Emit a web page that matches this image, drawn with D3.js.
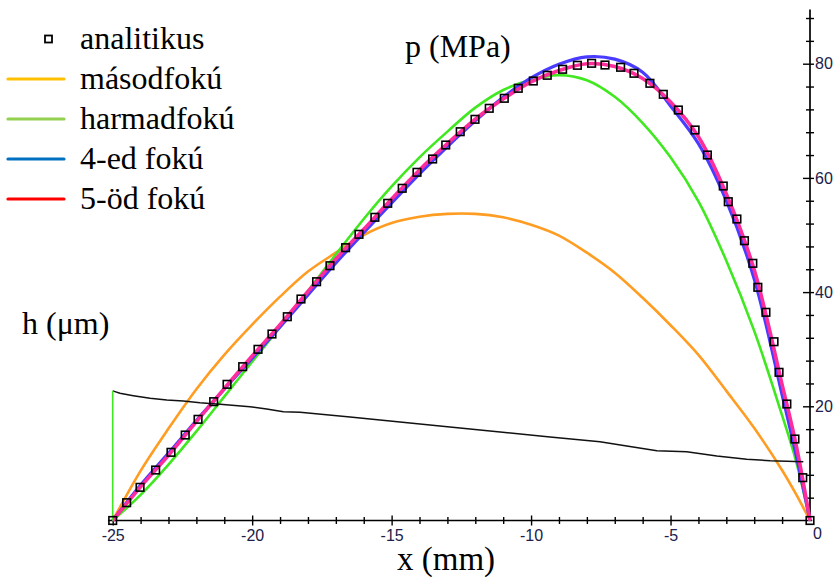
<!DOCTYPE html>
<html>
<head>
<meta charset="utf-8">
<script src="https://cdn.jsdelivr.net/npm/d3@7"></script>
<style>
  body { margin: 0; background: #fff; }
  svg { display: block; }
  .serif { font-family: 'Liberation Serif', 'Times New Roman', serif; fill: #000; }
  .tick text { font-family: 'Liberation Sans', Arial, sans-serif; font-size: 16px; fill: #20204a; }
</style>
</head>
<body>
<svg width="837" height="577"></svg>
<script>
const width = 837,
  height = 577

// analytic solution (x in mm, p in MPa)
const analyticX = [-25, -24.5, -24.02, -23.46, -22.91, -22.4, -21.94, -21.38, -20.9, -20.34,
  -19.79, -19.29, -18.74, -18.25, -17.69, -17.21, -16.65, -16.17, -15.6, -15.14,
  -14.62, -14.09, -13.53, -13.06, -12.54, -12.01, -11.5, -10.96, -10.46, -9.92,
  -9.42, -8.87, -8.34, -7.83, -7.35, -6.79, -6.31, -5.74, -5.26, -4.72,
  -4.12, -3.68, -3.11, -2.93, -2.62, -2.35, -2.05, -1.87, -1.58, -1.29,
  -1.11, -0.83, -0.54, -0.26, 0]
const analyticP = [0, 3.12, 5.81, 8.84, 11.94, 14.97, 17.72, 20.81, 23.85, 26.94,
  29.98, 32.66, 35.69, 38.79, 41.82, 44.62, 47.78, 50.12, 53.1, 55.55,
  58.18, 60.98, 63.31, 65.76, 68.09, 70.26, 72.19, 73.94, 75.69, 76.97,
  77.97, 79.02, 79.72, 80.07, 79.77, 79.37, 78.32, 76.57, 74.64, 71.89,
  68.39, 64.01, 58.58, 55.83, 52.8, 49.0, 45.04, 40.84, 36.46, 31.31,
  25.95, 20.4, 14.27, 7.5, 0]

// fitted polynomials, sampled along x
const fitX = [-25, -24, -23, -22, -21, -20, -19, -18, -17, -16, -15, -14, -13, -12, -11,
  -10, -9, -8, -7, -6, -5, -4, -3, -2, -1, -0.5, 0]
const quad = [0, 8.7, 16.1, 23.0, 29.0, 34.3, 39.2, 43.6, 46.9, 50.0, 52.1, 53.2, 53.7, 53.7, 53.1,
  51.8, 49.9, 46.9, 43.4, 39.0, 34.2, 29.0, 22.7, 16.2, 8.8, 4.6, 0]
const cubic = [0, 4.5, 9.8, 15.6, 21.7, 27.8, 33.9, 40.2, 46.6, 52.8, 58.5, 63.6, 68.1, 72.3, 75.4,
  77.2, 78.0, 77.1, 74.2, 69.6, 63.6, 55.9, 45.5, 33.2, 18.4, 10.4, 0]
const quartic = [0, 6.2, 11.8, 17.5, 23.0, 28.4, 33.9, 39.5, 45.1, 50.4, 55.6, 60.7, 65.5, 70.0, 74.1,
  77.5, 79.9, 81.2, 80.8, 78.5, 72.6, 66.0, 56.0, 42.3, 22.0, 11.5, 0]
const quintic = [0, 5.9, 11.4, 17.3, 23.1, 28.8, 34.3, 40.1, 45.8, 51.0, 56.3, 61.4, 66.0, 70.3, 73.8,
  76.8, 78.8, 80.0, 79.5, 77.4, 73.3, 67.2, 57.2, 43.9, 23.8, 13.3, 0]

// film thickness h (um)
const hX = [-25, -24.74, -24.26, -23.66, -23.06, -22.47, -21.87, -21.15, -20.08, -19.48,
  -18.88, -18.28, -16.49, -14.7, -12.91, -11.11, -9.32, -7.53, -6.57, -5.49,
  -4.42, -3.34, -2.27, -1.43, -0.24]
const hVal = [22.7, 22.28, 21.86, 21.4, 21.1, 20.93, 20.63, 20.35, 19.93, 19.53,
  19.05, 18.95, 18.13, 17.25, 16.37, 15.5, 14.62, 13.8, 13.05, 12.22,
  12.05, 11.3, 10.72, 10.47, 10.3]

const xMajor = [-25, -20, -15, -10, -5]
const yMajor = [20, 40, 60, 80]

const legendItems = [
  { name: 'analitikus', type: 'marker' },
  { name: 'másodfokú', color: '#ffc000' },
  { name: 'harmadfokú', color: '#92d050' },
  { name: '4-ed fokú', color: '#0070c0' },
  { name: '5-öd fokú', color: '#ff0000' }
]

let svg = d3.select('svg')

let x = d3.scaleLinear().domain([-25, 0]).range([112.7, 810])
let y = d3.scaleLinear().domain([0, 80]).range([520.5, 63.7])

let zip = (xs, ys) => xs.map((v, i) => [v, ys[i]])
let line = d3.line()
  .x(d => x(d[0]))
  .y(d => y(d[1]))
  .curve(d3.curveCatmullRom.alpha(0.5))

// axes
let xAxis = svg.append('g')
  .attr('transform', `translate(0,${y(0)})`)
  .call(d3.axisBottom(x)
    .tickValues(d3.range(-25, 0, 1))
    .tickFormat(d => xMajor.includes(d) ? d : '')
    .tickSizeOuter(0))
xAxis.select('.domain').remove()
xAxis.selectAll('.tick line')
  .attr('stroke', '#000')
  .attr('stroke-width', 1.4)
  .attr('y1', d => xMajor.includes(d) ? -5 : -3.5)
  .attr('y2', d => xMajor.includes(d) ? 5 : 3.5)
xAxis.selectAll('.tick text').attr('y', 9).attr('dy', '0.71em')
xAxis.append('line')
  .attr('x1', x(-25.17)).attr('x2', x(0.08))
  .attr('stroke', '#000').attr('stroke-width', 1.7)

let yAxis = svg.append('g')
  .attr('transform', `translate(${x(0)},0)`)
  .call(d3.axisRight(y)
    .tickValues(d3.range(4, 89, 4))
    .tickFormat(d => yMajor.includes(d) ? d : '')
    .tickSizeOuter(0))
yAxis.select('.domain').remove()
yAxis.selectAll('.tick line')
  .attr('stroke', '#000')
  .attr('stroke-width', 1.4)
  .attr('x1', d => yMajor.includes(d) ? -7 : -4)
  .attr('x2', 4)
yAxis.selectAll('.tick text').attr('x', 5)
yAxis.append('line')
  .attr('y1', y(0)).attr('y2', y(89.5))
  .attr('stroke', '#000').attr('stroke-width', 1.7)
yAxis.append('text')
  .attr('x', 3).attr('y', y(0) + 18)
  .style('font-family', "'Liberation Sans', Arial, sans-serif")
  .style('font-size', '16px')
  .attr('fill', '#20204a')
  .text('0')

// curves
let curves = [
  { values: quad, color: '#ff9c22', width: 2.6 },
  { values: cubic, color: '#3fe81f', width: 2.6 },
  { values: quartic, color: '#4a3cff', width: 3.2 },
  { values: quintic, color: '#ff2d9b', width: 3.6 }
]

svg.append('g').selectAll('path')
  .data(curves)
  .join('path')
    .attr('d', d => line(zip(fitX, d.values)))
    .attr('fill', 'none')
    .attr('stroke', d => d.color)
    .attr('stroke-width', d => d.width)

// h profile and the left boundary
svg.append('path')
  .attr('d', d3.line().x(d => x(d[0])).y(d => y(d[1]))(zip(hX, hVal)))
  .attr('fill', 'none')
  .attr('stroke', '#111')
  .attr('stroke-width', 1.5)

svg.append('line')
  .attr('x1', x(hX[0])).attr('x2', x(hX[0]))
  .attr('y1', y(0)).attr('y2', y(hVal[0]))
  .attr('stroke', '#3fe81f')
  .attr('stroke-width', 1.6)

// analytic markers
svg.append('g').selectAll('rect')
  .data(zip(analyticX, analyticP))
  .join('rect')
    .attr('x', d => x(d[0]) - 3.8)
    .attr('y', d => y(d[1]) - 3.8)
    .attr('width', 7.6)
    .attr('height', 7.6)
    .attr('fill', 'none')
    .attr('stroke', '#000')
    .attr('stroke-width', 1.6)

// axis titles
svg.append('text').attr('class', 'serif')
  .attr('x', 405).attr('y', 57)
  .style('font-size', '32px')
  .text('p (MPa)')

svg.append('text').attr('class', 'serif')
  .attr('x', 22).attr('y', 334)
  .style('font-size', '32px')
  .text('h (μm)')

svg.append('text').attr('class', 'serif')
  .attr('x', 397).attr('y', 570)
  .style('font-size', '33px')
  .text('x (mm)')

// legend
let legend = svg.append('g')
  .selectAll('g')
  .data(legendItems)
  .join('g')
    .attr('transform', (d, i) => `translate(0,${39 + i * 40})`)

legend.filter(d => d.type === 'marker')
  .append('rect')
    .attr('x', 45).attr('y', -3.5)
    .attr('width', 7).attr('height', 7)
    .attr('fill', 'none')
    .attr('stroke', '#000')
    .attr('stroke-width', 1.8)

legend.filter(d => d.type !== 'marker')
  .append('line')
    .attr('x1', 8).attr('x2', 64)
    .attr('stroke', d => d.color)
    .attr('stroke-width', 3.2)
    .attr('stroke-linecap', 'round')

legend.append('text')
  .attr('class', 'serif')
  .attr('x', 80).attr('y', 10)
  .style('font-size', '32px')
  .text(d => d.name)
</script>
</body>
</html>
